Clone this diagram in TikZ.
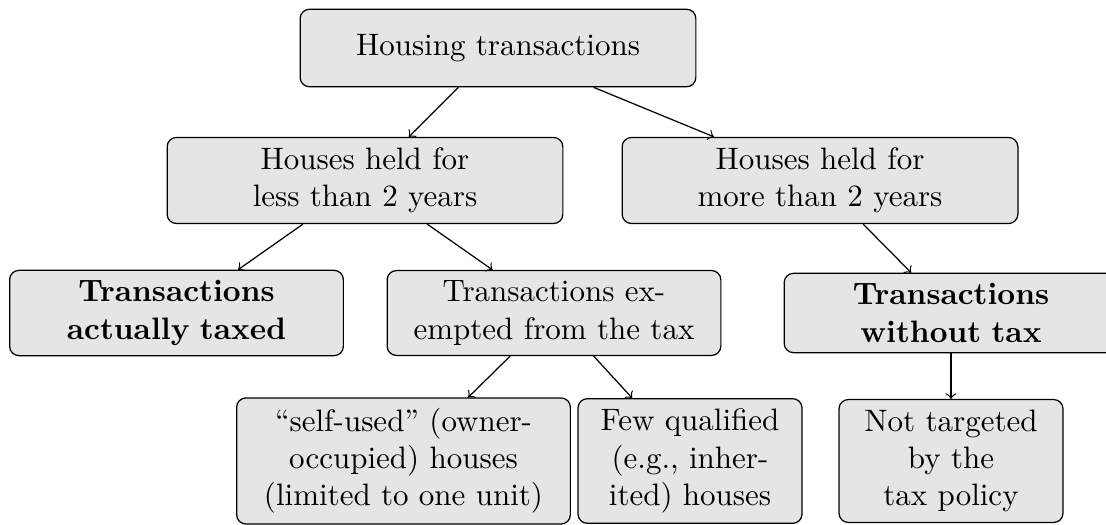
\documentclass[tikz,border=0pt]{standalone}
\usepackage{xcolor}
\usepackage{amsmath, amssymb}
\usepackage{tikz}

\begin{document}
\begin{tikzpicture}[x=0.3226pt,y=-0.3226pt,
  box/.style={draw,rounded corners=3pt,fill=black!10,align=center,inner sep=3.33pt},
  wide/.style={box,text width=121pt},
  mid/.style={box,text width=101pt},
  narrow/.style={box,text width=65.6pt}]
\useasboundingbox (0,0) rectangle (1106,525);
%root
\node[wide,minimum height=25pt] (root) at (498,48) {Housing transactions};
%held
\node[wide] (less) at (365,180.5) {Houses held for\\less than 2 years};
\node[wide] (more) at (820,180.5) {Houses held for\\more than 2 years};
%tax
\node[mid] (taxed) at (176.5,313) {\textbf{Transactions}\\\textbf{actually taxed}};
\node[mid] (exempt) at (554,313) {Transactions ex-\\empted from the tax};
\node[mid] (notax) at (951,313) {\textbf{Transactions}\\\textbf{without tax}};
%bottom
\node[mid] (self) at (403.5,461) {``self-used'' (owner-\\occupied) houses\\(limited to one unit)};
\node[narrow] (few) at (690,461) {Few qualified\\(e.g., inher-\\ited) houses};
\node[narrow] (target) at (951,461) {Not targeted\\by the\\tax policy};
%arrows
\draw[->] (root) -- (less);
\draw[->] (root) -- (more);
\draw[->] (less) -- (taxed);
\draw[->] (less) -- (exempt);
\draw[->] (more) -- (notax);
\draw[->] (exempt) -- (self);
\draw[->] (exempt) -- (few);
\draw[->] (notax) -- (target);
\end{tikzpicture}
\end{document}
